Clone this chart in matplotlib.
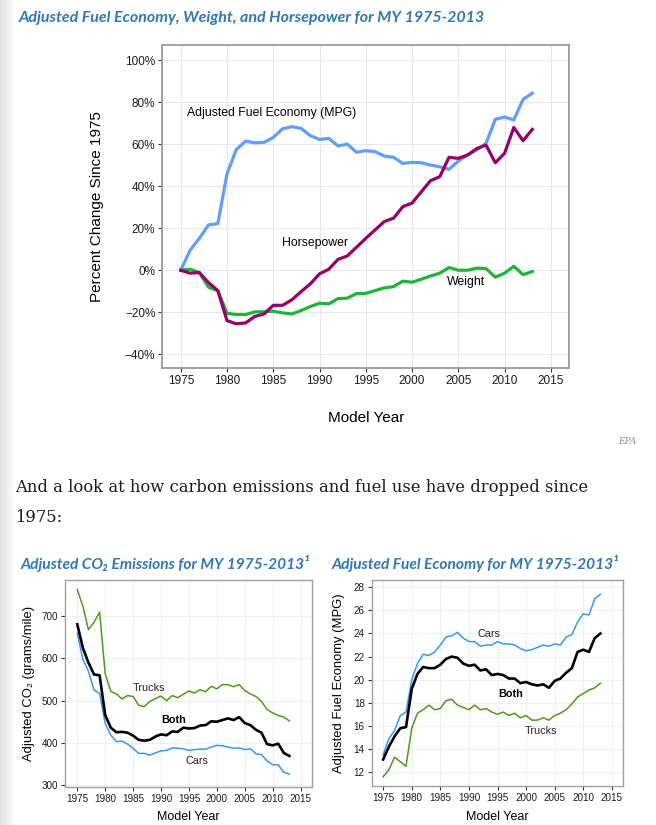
import numpy as np
import matplotlib
matplotlib.use('Agg')
import matplotlib.pyplot as plt

plt.rcParams['font.family'] = ['Liberation Sans', 'DejaVu Sans']

# ---- data: percent change since 1975 ----
years = list(range(1975, 2014))
fuel_pct = [0, 9.5, 15.2, 21.6, 22.2, 46, 57.5, 61.5, 60.7, 60.9,
            63.3, 67.4, 68.4, 67.6, 64.1, 62.3, 62.8, 59.2, 60.1, 56.2,
            57, 56.5, 54.4, 53.8, 50.9, 51.4, 51.2, 50.1, 49.3, 48.1,
            52, 54.9, 57.3, 60.5, 71.9, 73, 71.6, 81.4, 84.3]
hp_pct = [0, -1.4, -1.1, -5.9, -9.7, -24, -25.5, -25.1, -22, -20.8,
          -16.7, -16.7, -14.1, -10.2, -6.5, -1.7, 0.5, 5.2, 6.8, 11,
          15.2, 19.2, 23.2, 24.8, 30.3, 32.0, 37.4, 42.7, 44.6, 53.8,
          53.3, 54.9, 58, 59.6, 51.2, 55.7, 68, 61.7, 67.1]
weight_pct = [0, 0.5, -1.1, -8.1, -9.7, -20.5, -21.1, -21.1, -19.8, -19.8,
              -19.5, -20.3, -20.8, -19.2, -17.3, -15.7, -16, -13.5, -13.3, -11.1,
              -11, -9.7, -8.4, -7.8, -5.2, -5.7, -4.3, -2.7, -1.4, 1.3,
              0, 0, 1, 0.8, -3.3, -1.4, 1.9, -2.1, -0.6]

# ---- data: CO2 (grams/mile) ----
co2_both = [681, 625, 590, 562, 560, 466, 436, 425, 426, 424,
            417, 407, 405, 407, 415, 420, 418, 427, 426, 436,
            434, 435, 441, 442, 451, 450, 454, 458, 454, 461,
            447, 442, 431, 424, 397, 394, 398, 376, 369]
co2_cars = [660, 598, 570, 525, 517, 446, 418, 403, 404, 397,
            387, 375, 375, 371, 376, 381, 382, 388, 387, 386,
            382, 384, 385, 385, 390, 394, 393, 390, 387, 388,
            384, 386, 374, 372, 357, 348, 348, 330, 326]
co2_trucks = [763, 724, 668, 686, 710, 564, 522, 516, 504, 512,
              510, 489, 486, 498, 505, 511, 500, 512, 507, 515,
              523, 518, 526, 521, 534, 528, 538, 538, 533, 538,
              524, 516, 510, 498, 479, 471, 465, 461, 452]

# ---- data: fuel economy (MPG) ----
mpg_both = [13.1, 14.2, 15.1, 15.8, 15.9, 19.2, 20.5, 21.1, 21.0, 21.0,
            21.3, 21.8, 22.0, 21.9, 21.4, 21.2, 21.3, 20.8, 20.9, 20.4,
            20.5, 20.4, 20.1, 20.1, 19.7, 19.8, 19.6, 19.5, 19.6, 19.3,
            19.9, 20.1, 20.6, 21.0, 22.4, 22.6, 22.4, 23.6, 24.0]
mpg_cars = [13.5, 14.9, 15.6, 16.9, 17.2, 20.0, 21.4, 22.2, 22.1, 22.4,
            23.0, 23.7, 23.8, 24.1, 23.6, 23.3, 23.3, 22.9, 23.0, 23.0,
            23.3, 23.1, 23.1, 23.0, 22.7, 22.5, 22.6, 22.8, 23.0, 22.9,
            23.1, 23.0, 23.7, 23.9, 25.0, 25.7, 25.6, 27.0, 27.4]
mpg_trucks = [11.6, 12.2, 13.3, 12.9, 12.5, 15.8, 17.1, 17.4, 17.8, 17.4,
              17.5, 18.2, 18.3, 17.8, 17.6, 17.4, 17.8, 17.4, 17.5, 17.2,
              17.0, 17.2, 16.9, 17.1, 16.7, 16.9, 16.5, 16.5, 16.7, 16.5,
              16.9, 17.1, 17.4, 17.9, 18.5, 18.8, 19.1, 19.3, 19.7]

xticks = [1975, 1980, 1985, 1990, 1995, 2000, 2005, 2010, 2015]
pct_ticks = [-40, -20, 0, 20, 40, 60, 80, 100]
pct_labels = ['\u221240%', '\u221220%', '0%', '20%', '40%', '60%', '80%', '100%']

TITLE_BLUE = '#2F77B8'

fig = plt.figure(figsize=(6.56, 8.25), dpi=100)

# page shadow on the left edge
shade = fig.add_axes([0, 0, 14 / 656, 1])
shade.imshow(np.linspace(0.87, 1.0, 50)[None, :], cmap='gray', vmin=0, vmax=1,
             aspect='auto', extent=[0, 1, 0, 1])
shade.axis('off')

title_kw = dict(family=['Lato', 'DejaVu Sans'], style='italic', weight='bold',
                color=TITLE_BLUE, va='center', ha='left')
fig.text(19 / 656, 1 - 18 / 825,
         'Adjusted Fuel Economy, Weight, and Horsepower for MY 1975-2013',
         fontsize=11.5, **title_kw)


def style_axes(ax, frame_color, tick_size, grid_color, lw_frame):
    for sp in ax.spines.values():
        sp.set_color(frame_color)
        sp.set_linewidth(lw_frame)
    ax.tick_params(direction='out', length=3, width=0.8, color='#333333',
                   labelsize=tick_size, labelcolor='#1a1a1a', pad=2)
    ax.grid(True, color=grid_color, linewidth=0.7)
    ax.set_axisbelow(True)


# ---- main chart ----
ax = fig.add_axes([162.3 / 656, 1 - 368.3 / 825, 407 / 656, 323.3 / 825])
ax.plot(years, fuel_pct, color='#619CFF', lw=2.3, solid_joinstyle='round')
ax.plot(years, weight_pct, color='#1FB33E', lw=2.3, solid_joinstyle='round')
ax.plot(years, hp_pct, color='#990066', lw=2.3, solid_joinstyle='round')
ax.set_xlim(1973, 2017)
ax.set_ylim(-46.7, 107.3)
ax.set_xticks(xticks)
ax.set_yticks(pct_ticks)
ax.set_yticklabels(pct_labels)
style_axes(ax, '#9a9a9a', 8.5, '#e6e6e6', 1.3)
ax.set_xlabel('Model Year', fontsize=11)
ax.xaxis.set_label_coords(0.5, -0.132)
ax.set_ylabel('Percent Change Since 1975', fontsize=11)
ax.yaxis.set_label_coords(-0.143, 0.5)
ax.text(1975.65, 74.8, 'Adjusted Fuel Economy (MPG)', fontsize=8.8, va='center')
ax.text(1985.9, 12.9, 'Horsepower', fontsize=8.8, va='center')
ax.text(2003.75, -5.7, 'Weight', fontsize=8.8, va='center')

fig.text(636 / 656, 1 - 441 / 825, 'EPA', family='DejaVu Serif', style='italic',
         fontsize=6.5, color='#8a8a8a', ha='right', va='center')

body_kw = dict(family='DejaVu Serif', fontsize=11.8, color='#1a1a1a',
               ha='left', va='center')
fig.text(15 / 656, 1 - 488 / 825,
         'And a look at how carbon emissions and fuel use have dropped since',
         **body_kw)
fig.text(15 / 656, 1 - 517 / 825, '1975:', **body_kw)

fig.text(20.7 / 656, 1 - 563 / 825, 'Adjusted CO\u2082 Emissions for MY 1975-2013\u00b9',
         fontsize=11.2, **title_kw)
fig.text(331.7 / 656, 1 - 563 / 825, 'Adjusted Fuel Economy for MY 1975-2013\u00b9',
         fontsize=11.2, **title_kw)

CAR_BLUE = '#3399F3'
TRUCK_GREEN = '#4E9A1C'

# ---- CO2 chart ----
ax2 = fig.add_axes([65 / 656, 1 - 786.7 / 825, 246.7 / 656, 206.7 / 825])
ax2.plot(years, co2_trucks, color=TRUCK_GREEN, lw=1.1)
ax2.plot(years, co2_cars, color=CAR_BLUE, lw=1.1)
ax2.plot(years, co2_both, color='black', lw=1.9)
ax2.set_xlim(1972.8, 2017)
ax2.set_ylim(296, 786)
ax2.set_xticks(xticks)
ax2.set_yticks([300, 400, 500, 600, 700])
style_axes(ax2, '#a0a0a0', 7.1, '#efefef', 1.0)
ax2.set_xlabel('Model Year', fontsize=9)
ax2.xaxis.set_label_coords(0.5, -0.118)
ax2.set_ylabel('Adjusted CO\u2082 (grams/mile)', fontsize=9.4)
ax2.yaxis.set_label_coords(-0.122, 0.5)
ax2.text(1987.8, 531, 'Trucks', fontsize=7.8, ha='center', va='center', color='#222222')
ax2.text(1992.2, 454, 'Both', fontsize=7.8, ha='center', va='center', weight='bold')
ax2.text(1996.4, 358, 'Cars', fontsize=7.8, ha='center', va='center', color='#222222')

# ---- MPG chart ----
ax3 = fig.add_axes([371.7 / 656, 1 - 786 / 825, 251.6 / 656, 206 / 825])
ax3.plot(years, mpg_trucks, color=TRUCK_GREEN, lw=1.1)
ax3.plot(years, mpg_cars, color=CAR_BLUE, lw=1.1)
ax3.plot(years, mpg_both, color='black', lw=1.9)
ax3.set_xlim(1973, 2017)
ax3.set_ylim(10.8, 28.63)
ax3.set_xticks(xticks)
ax3.set_yticks([12, 14, 16, 18, 20, 22, 24, 26, 28])
style_axes(ax3, '#a0a0a0', 7.1, '#efefef', 1.0)
ax3.set_xlabel('Model Year', fontsize=9)
ax3.xaxis.set_label_coords(0.5, -0.121)
ax3.set_ylabel('Adjusted Fuel Economy (MPG)', fontsize=9.4)
ax3.yaxis.set_label_coords(-0.106, 0.5)
ax3.text(1993.5, 23.93, 'Cars', fontsize=7.8, ha='center', va='center', color='#222222')
ax3.text(1997.3, 18.77, 'Both', fontsize=7.8, ha='center', va='center', weight='bold')
ax3.text(2002.6, 15.54, 'Trucks', fontsize=7.8, ha='center', va='center', color='#222222')

fig.savefig('out.png', dpi=100, facecolor='white')
